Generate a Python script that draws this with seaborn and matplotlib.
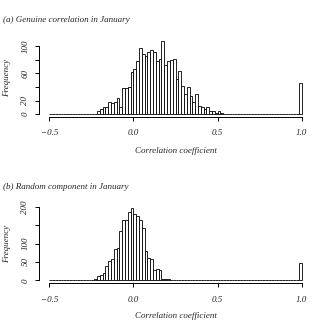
import matplotlib

matplotlib.use("Agg")
import matplotlib.pyplot as plt
import numpy as np
import pandas as pd
import seaborn as sns

# 90 equal bins between -0.5 and 1.0 (width 1/60), counts
bin_lo, bin_hi, n_bins = -0.5, 1.0, 90

# (a) genuine correlation: non-zero bins start at bin 17, spike in the last bin
genuine_counts = (
    [0] * 17
    + [4, 7, 10, 10, 18, 17, 18, 23, 11, 38,
       38, 40, 62, 67, 78, 98, 88, 86, 91, 94,
       92, 79, 82, 108, 72, 79, 80, 82, 52, 63,
       41, 30, 40, 26, 18, 29, 12, 11, 8, 10,
       5, 5, 2, 4, 1]
    + [0] * 27
    + [46]
)

# (b) random component: non-zero bins start at bin 13
random_counts = (
    [0] * 13
    + [1, 2, 2, 4, 11, 15, 20, 38, 53, 58,
       85, 88, 134, 163, 165, 186, 198, 180, 175, 163,
       142, 80, 60, 58, 28, 30, 27, 4, 4, 3,
       1]
    + [0] * 45
    + [46]
)

x_ticks = [-0.5, 0.0, 0.5, 1.0]
x_tick_labels = ["\u22120.5", "0.0", "0.5", "1.0"]
genuine_yticks = [0, 20, 40, 60, 80, 100]
genuine_ylabels = ["0", "20", "", "60", "", "100"]
random_yticks = [0, 50, 100, 150, 200]
random_ylabels = ["0", "50", "100", "", "200"]

titles = ["(a) Genuine correlation in January", "(b) Random component in January"]

sns.set_style("ticks")
plt.rcParams["font.family"] = ["Liberation Serif", "DejaVu Serif"]
plt.rcParams["font.style"] = "italic"
plt.rcParams["font.size"] = 6.5

edges = np.linspace(bin_lo, bin_hi, n_bins + 1)
centers = (edges[:-1] + edges[1:]) / 2

fig = plt.figure(figsize=(3.32, 3.32), dpi=100)
H = 332.0


def draw_panel(top_px, bottom_px, counts, yticks, ylabels, title, title_y, xlab_y):
    rect = [39.2 / H, 1 - bottom_px / H, 272.6 / H, (bottom_px - top_px) / H]
    ax = fig.add_axes(rect)
    df = pd.DataFrame({"r": centers, "n": counts})
    sns.histplot(
        data=df, x="r", weights="n", bins=n_bins, binrange=(bin_lo, bin_hi),
        color="white", edgecolor="black", linewidth=0.6, alpha=1, ax=ax,
    )
    # R style padding of 4% on both axes
    pad = (bin_hi - bin_lo) * 0.04
    ax.set_xlim(bin_lo - pad, bin_hi + pad)
    ymax = max(counts)
    ax.set_ylim(-ymax * 0.04, ymax * 1.04)

    sns.despine(ax=ax)
    ax.spines["left"].set_bounds(yticks[0], yticks[-1])
    ax.spines["bottom"].set_bounds(x_ticks[0], x_ticks[-1])
    for s in ("left", "bottom"):
        ax.spines[s].set_linewidth(0.7)
        ax.spines[s].set_color("black")

    ax.set_xticks(x_ticks)
    ax.set_xticklabels(x_tick_labels)
    ax.set_yticks(yticks)
    ax.set_yticklabels(ylabels)
    ax.tick_params(axis="both", length=3, width=0.7, color="black")
    ax.tick_params(axis="x", pad=6)
    ax.tick_params(axis="y", pad=4, labelrotation=90)
    for lab in ax.get_yticklabels():
        lab.set_va("center")
    ax.set_xlabel("")
    ax.set_ylabel("")

    fig.text(3 / H, 1 - title_y / H, title, ha="left", va="center")
    fig.text(175.5 / H, 1 - xlab_y / H, "Correlation coefficient", ha="center", va="center")
    fig.text(7.5 / H, 1 - (top_px + bottom_px) / 2 / H, "Frequency",
             ha="center", va="center", rotation=90)
    return ax


draw_panel(38, 117, genuine_counts, genuine_yticks, genuine_ylabels, titles[0], 20, 151)
draw_panel(204.7, 283.2, random_counts, random_yticks, random_ylabels, titles[1], 186.7, 316)

plt.savefig("out.png", dpi=100, facecolor="white")
plt.close()
